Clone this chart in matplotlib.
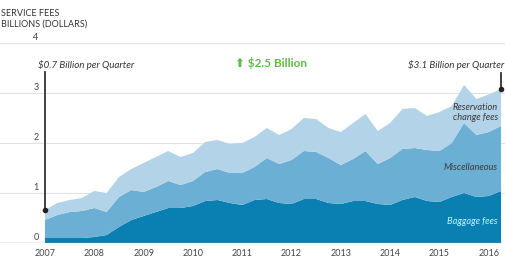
import numpy as np
import matplotlib
matplotlib.use("Agg")
import matplotlib.pyplot as plt

# quarterly service fees, billions of dollars (2007 Q1 .. 2016 Q2)
quarters = 2007 + np.arange(38) / 4
baggage = [0.10, 0.10, 0.10, 0.10, 0.12, 0.16, 0.32, 0.46, 0.54, 0.62,
           0.70, 0.70, 0.74, 0.84, 0.86, 0.80, 0.76, 0.86, 0.88, 0.80,
           0.78, 0.88, 0.88, 0.80, 0.78, 0.84, 0.84, 0.78, 0.76, 0.86,
           0.92, 0.84, 0.82, 0.92, 1.00, 0.92, 0.94, 1.04]
misc = [0.36, 0.46, 0.52, 0.54, 0.58, 0.46, 0.60, 0.60, 0.48, 0.50,
        0.54, 0.46, 0.50, 0.58, 0.62, 0.60, 0.64, 0.66, 0.82, 0.78,
        0.88, 0.96, 0.94, 0.90, 0.78, 0.84, 1.00, 0.80, 0.94, 1.02,
        0.98, 1.02, 1.02, 1.08, 1.40, 1.24, 1.28, 1.30]
reservation = [0.20, 0.24, 0.24, 0.26, 0.34, 0.38, 0.40, 0.42, 0.58, 0.60,
               0.60, 0.56, 0.56, 0.60, 0.58, 0.58, 0.60, 0.60, 0.60, 0.58,
               0.62, 0.66, 0.66, 0.60, 0.66, 0.72, 0.74, 0.66, 0.70, 0.80,
               0.80, 0.68, 0.78, 0.74, 0.76, 0.72, 0.75, 0.74]
year_ticks = [2007, 2008, 2009, 2010, 2011, 2012, 2013, 2014, 2015, 2016]
y_ticks = [0, 1, 2, 3, 4]

colors = ["#0a80b2", "#6bafd4", "#b3d3e8"]
plt.rcParams['font.family'] = ['Lato', 'DejaVu Sans']

fig = plt.figure(figsize=(5.05, 2.64), dpi=100)
ax = fig.add_axes([0, 21 / 264, 1, 210 / 264])
ax.set_xlim(2006.087, 2006.087 + 505 / 49.3)
ax.set_ylim(0, 4.2)
ax.axis('off')

for v in y_ticks[1:]:
    ax.axhline(v, color="#e2e2e2", lw=0.8, zorder=0)
ax.axhline(0, color="#a8a8a8", lw=1.0, zorder=3)

ax.stackplot(quarters, baggage, misc, reservation, colors=colors, lw=0, zorder=2)

ylab_x = 2006.087 + 36 / 49.3
for v in y_ticks:
    ax.text(ylab_x, v + 0.11, str(v), ha='center', va='center', fontsize=6.5, color="#444444")
for yr in year_ticks:
    ax.text(yr, -0.2, str(yr), ha='center', va='center', fontsize=6.5, color="#444444",
            clip_on=False)

total = np.array(baggage) + np.array(misc) + np.array(reservation)

# start / end annotations
ax.plot([quarters[0], quarters[0]], [total[0], 3.42], color="#333333", lw=1.3, zorder=4)
ax.plot(quarters[0], total[0], 'o', color="#222222", ms=3, zorder=5)
ax.text(quarters[0] - 0.14, 3.57, "$0.7 Billion per Quarter", ha='left', va='center',
        fontsize=7, style='italic', color="#333333")
ax.plot([quarters[-1], quarters[-1]], [total[-1], 3.4], color="#333333", lw=1.3, zorder=4)
ax.plot(quarters[-1], total[-1], 'o', color="#222222", ms=3, zorder=5)
ax.text(quarters[-1] + 0.06, 3.57, "$3.1 Billion per Quarter", ha='right', va='center',
        fontsize=7, style='italic', color="#333333")

ax.text(2011.59, 3.6, "\u2b06 $2.5 Billion", ha='center', va='center', fontsize=8.5,
        fontweight='bold', color="#5fbb47")

# series labels
lab_x = 2016.19
ax.text(lab_x, 2.61, "Reservation\nchange fees", ha='right', va='center', fontsize=6.7,
        style='italic', color="#3a3a3a", linespacing=1.15)
ax.text(lab_x, 1.5, "Miscellaneous", ha='right', va='center', fontsize=6.7,
        style='italic', color="#3a3a3a")
ax.text(lab_x, 0.42, "Baggage fees", ha='right', va='center', fontsize=6.7,
        style='italic', color="#d6ebf5")

fig.text(0.002, 1 - 14 / 264, "SERVICE FEES", ha='left', va='center', fontsize=6.5,
         color="#333333")
fig.text(0.002, 1 - 24 / 264, "BILLIONS (DOLLARS)", ha='left', va='center', fontsize=6.5,
         color="#333333")

fig.savefig("out.png", dpi=100)
